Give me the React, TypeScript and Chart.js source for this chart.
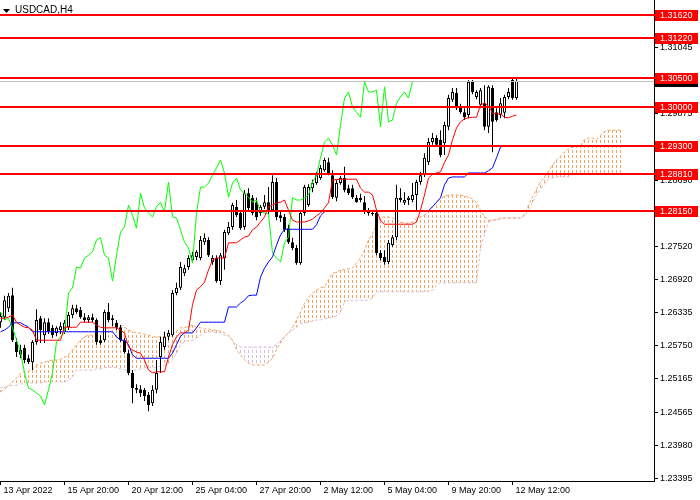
import React, { useEffect, useRef } from "react";
import { Chart, registerables } from "chart.js";

Chart.register(...registerables);

const SYMBOL = "USDCAD,H4";

// H4 candles, index 0 = 13 Apr 2022 04:00
const opens = [
  1.2617, 1.2626, 1.2642, 1.2665, 1.2582, 1.2568, 1.2571, 1.2553, 1.2546, 1.2582,
  1.2624, 1.2594, 1.2617, 1.2607, 1.2598, 1.2603, 1.2600, 1.2608, 1.2630, 1.2642,
  1.2639, 1.2626, 1.2621, 1.2626, 1.2621, 1.2585, 1.2585, 1.2635, 1.2621, 1.2616,
  1.2608, 1.2585, 1.2562, 1.2527, 1.2500, 1.2498, 1.2497, 1.2488, 1.2473, 1.2497,
  1.2555, 1.2573, 1.2591, 1.2594, 1.2669, 1.2678, 1.2704, 1.2715, 1.2727, 1.2733,
  1.2731, 1.2759, 1.2763, 1.2724, 1.2731, 1.2690, 1.2731, 1.2775, 1.2786, 1.2822,
  1.2811, 1.2786, 1.2846, 1.2838, 1.2830, 1.2811, 1.2822, 1.2830, 1.2816, 1.2866,
  1.2807, 1.2804, 1.2784, 1.2759, 1.2749, 1.2722, 1.2811, 1.2825, 1.2855, 1.2864,
  1.2873, 1.2887, 1.2901, 1.2878, 1.2838, 1.2864, 1.2873, 1.2855, 1.2855, 1.2838,
  1.2838, 1.2830, 1.2813, 1.2811, 1.2811, 1.2740, 1.2733, 1.2724, 1.2754, 1.2768,
  1.2838, 1.2829, 1.2834, 1.2834, 1.2843, 1.2866, 1.2878, 1.2901, 1.2937, 1.2944,
  1.2941, 1.2935, 1.2964, 1.3012, 1.3024, 1.2999, 1.2990, 1.2985, 1.3044, 1.3017,
  1.3003, 1.3006, 1.2964, 1.3033, 1.2990, 1.2985, 1.2989, 1.3017, 1.3047, 1.3015,
];
const highs = [
  1.2635, 1.2664, 1.2669, 1.2678, 1.2589, 1.2577, 1.2577, 1.2559, 1.2585, 1.2640,
  1.2628, 1.2624, 1.2624, 1.2612, 1.2610, 1.2617, 1.2621, 1.2635, 1.2648, 1.2648,
  1.2644, 1.2633, 1.2630, 1.2632, 1.2624, 1.2594, 1.2639, 1.2651, 1.2630, 1.2621,
  1.2612, 1.2589, 1.2568, 1.2532, 1.2507, 1.2505, 1.2500, 1.2493, 1.2505, 1.2550,
  1.2591, 1.2600, 1.2603, 1.2674, 1.2687, 1.2724, 1.2719, 1.2736, 1.2742, 1.2745,
  1.2770, 1.2775, 1.2768, 1.2736, 1.2736, 1.2740, 1.2781, 1.2795, 1.2829, 1.2834,
  1.2816, 1.2852, 1.2855, 1.2843, 1.2838, 1.2825, 1.2843, 1.2857, 1.2878, 1.2873,
  1.2813, 1.2809, 1.2790, 1.2767, 1.2754, 1.2816, 1.2861, 1.2862, 1.2870, 1.2884,
  1.2896, 1.2909, 1.2909, 1.2887, 1.2870, 1.2877, 1.2893, 1.2861, 1.2861, 1.2843,
  1.2845, 1.2841, 1.2820, 1.2816, 1.2816, 1.2745, 1.2745, 1.2763, 1.2772, 1.2861,
  1.2855, 1.2848, 1.2841, 1.2864, 1.2870, 1.2884, 1.2917, 1.2944, 1.2953, 1.2949,
  1.2958, 1.2973, 1.3021, 1.3033, 1.3033, 1.3005, 1.2997, 1.3047, 1.3047, 1.3029,
  1.3033, 1.3038, 1.3038, 1.3038, 1.2997, 1.3015, 1.3021, 1.3033, 1.3051, 1.3051,
];
const lows = [
  1.2607, 1.2621, 1.2635, 1.2582, 1.2555, 1.2553, 1.2544, 1.2543, 1.2532, 1.2577,
  1.2580, 1.2580, 1.2596, 1.2589, 1.2592, 1.2596, 1.2596, 1.2603, 1.2624, 1.2632,
  1.2623, 1.2617, 1.2616, 1.2617, 1.2577, 1.2577, 1.2582, 1.2617, 1.2610, 1.2603,
  1.2582, 1.2561, 1.2523, 1.2473, 1.2491, 1.2484, 1.2477, 1.2459, 1.2468, 1.2491,
  1.2527, 1.2568, 1.2585, 1.2591, 1.2665, 1.2674, 1.2699, 1.2710, 1.2724, 1.2727,
  1.2727, 1.2754, 1.2733, 1.2719, 1.2687, 1.2683, 1.2710, 1.2772, 1.2781, 1.2804,
  1.2781, 1.2781, 1.2816, 1.2807, 1.2798, 1.2806, 1.2818, 1.2809, 1.2813, 1.2798,
  1.2795, 1.2777, 1.2756, 1.2745, 1.2719, 1.2719, 1.2806, 1.2822, 1.2848, 1.2861,
  1.2870, 1.2884, 1.2878, 1.2836, 1.2832, 1.2861, 1.2848, 1.2843, 1.2836, 1.2829,
  1.2830, 1.2809, 1.2806, 1.2806, 1.2736, 1.2727, 1.2719, 1.2720, 1.2751, 1.2763,
  1.2830, 1.2825, 1.2825, 1.2830, 1.2813, 1.2861, 1.2875, 1.2896, 1.2932, 1.2928,
  1.2910, 1.2914, 1.2958, 1.3008, 1.2994, 1.2987, 1.2976, 1.2979, 1.3022, 1.3013,
  1.2997, 1.2958, 1.2953, 1.2919, 1.2973, 1.2979, 1.2979, 1.3013, 1.3012, 1.3012,
];
const closes = [
  1.2628, 1.2656, 1.2664, 1.2585, 1.2564, 1.2559, 1.2550, 1.2546, 1.2582, 1.2621,
  1.2603, 1.2617, 1.2600, 1.2594, 1.2607, 1.2610, 1.2616, 1.2630, 1.2642, 1.2635,
  1.2626, 1.2621, 1.2626, 1.2621, 1.2582, 1.2580, 1.2635, 1.2621, 1.2624, 1.2607,
  1.2585, 1.2564, 1.2527, 1.2500, 1.2497, 1.2491, 1.2486, 1.2470, 1.2497, 1.2527,
  1.2582, 1.2591, 1.2598, 1.2669, 1.2678, 1.2715, 1.2713, 1.2731, 1.2736, 1.2742,
  1.2763, 1.2767, 1.2736, 1.2731, 1.2690, 1.2736, 1.2777, 1.2786, 1.2825, 1.2807,
  1.2784, 1.2846, 1.2820, 1.2811, 1.2804, 1.2822, 1.2830, 1.2813, 1.2866, 1.2804,
  1.2802, 1.2781, 1.2759, 1.2749, 1.2722, 1.2811, 1.2857, 1.2857, 1.2864, 1.2878,
  1.2891, 1.2905, 1.2882, 1.2839, 1.2864, 1.2873, 1.2852, 1.2846, 1.2839, 1.2830,
  1.2834, 1.2813, 1.2811, 1.2809, 1.2740, 1.2731, 1.2724, 1.2758, 1.2768, 1.2838,
  1.2834, 1.2834, 1.2838, 1.2843, 1.2866, 1.2878, 1.2909, 1.2937, 1.2944, 1.2932,
  1.2914, 1.2967, 1.3015, 1.3026, 1.2999, 1.2990, 1.2981, 1.3044, 1.3026, 1.3026,
  1.3029, 1.2964, 1.3035, 1.2973, 1.2976, 1.3006, 1.3017, 1.3026, 1.3015, 1.30452,
];

// Ichimoku lines
const tenkan = [
  1.2624, 1.2624, 1.2626, 1.2630, 1.2617, 1.2612, 1.2608, 1.2607, 1.2603, 1.2585,
  1.2585, 1.2585, 1.2585, 1.2585, 1.2585, 1.2585, 1.2608, 1.2608, 1.2608, 1.2608,
  1.2617, 1.2617, 1.2617, 1.2617, 1.2612, 1.2608, 1.2607, 1.2607, 1.2607, 1.2607,
  1.2603, 1.2598, 1.2573, 1.2568, 1.2564, 1.2562, 1.2550, 1.2532, 1.2527, 1.2529,
  1.2529, 1.2529, 1.2555, 1.2577, 1.2591, 1.2598, 1.2598, 1.2603, 1.2648, 1.2674,
  1.2680, 1.2688, 1.2710, 1.2727, 1.2731, 1.2731, 1.2731, 1.2758, 1.2758, 1.2758,
  1.2763, 1.2768, 1.2770, 1.2781, 1.2786, 1.2795, 1.2804, 1.2822, 1.2825, 1.2829,
  1.2830, 1.2834, 1.2816, 1.2798, 1.2795, 1.2795, 1.2795, 1.2797, 1.2800, 1.2806,
  1.2811, 1.2820, 1.2829, 1.2870, 1.2870, 1.2871, 1.2871, 1.2871, 1.2871, 1.2871,
  1.2855, 1.2848, 1.2848, 1.2843, 1.2816, 1.2798, 1.2791, 1.2791, 1.2791, 1.2791,
  1.2791, 1.2791, 1.2791, 1.2791, 1.2795, 1.2816, 1.2843, 1.2873, 1.2880, 1.2882,
  1.2884, 1.2901, 1.2914, 1.2941, 1.2962, 1.2973, 1.2978, 1.2980, 1.2981, 1.2981,
  1.3003, 1.3006, 1.3001, 1.2988, 1.2987, 1.2987, 1.2981, 1.2980, 1.2983, 1.2985,
];
const kijun = [
  1.2600, 1.2603, 1.2608, 1.2616, 1.2616, 1.2616, 1.2612, 1.2608, 1.2600, 1.2600,
  1.2600, 1.2600, 1.2600, 1.2600, 1.2600, 1.2600, 1.2600, 1.2600, 1.2600, 1.2600,
  1.2600, 1.2600, 1.2600, 1.2600, 1.2600, 1.2600, 1.2600, 1.2600, 1.2600, 1.2591,
  1.2585, 1.2585, 1.2577, 1.2559, 1.2553, 1.2553, 1.2553, 1.2553, 1.2553, 1.2553,
  1.2553, 1.2553, 1.2553, 1.2562, 1.2577, 1.2592, 1.2598, 1.2598, 1.2598, 1.2607,
  1.2617, 1.2617, 1.2617, 1.2617, 1.2617, 1.2617, 1.2617, 1.2644, 1.2644, 1.2644,
  1.2651, 1.2656, 1.2664, 1.2665, 1.2665, 1.2697, 1.2713, 1.2724, 1.2733, 1.2754,
  1.2772, 1.2782, 1.2782, 1.2782, 1.2782, 1.2782, 1.2782, 1.2782, 1.2782, 1.2790,
  1.2806, 1.2813, 1.2815, 1.2815, 1.2815, 1.2815, 1.2815, 1.2815, 1.2815, 1.2815,
  1.2815, 1.2815, 1.2815, 1.2815, 1.2815, 1.2815, 1.2815, 1.2815, 1.2815, 1.2815,
  1.2815, 1.2815, 1.2815, 1.2815, 1.2815, 1.2815, 1.2815, 1.2815, 1.2822, 1.2830,
  1.2838, 1.2861, 1.2873, 1.2875, 1.2875, 1.2875, 1.2875, 1.2882, 1.2882, 1.2882,
  1.2882, 1.2882, 1.2886, 1.2891, 1.2909, 1.2928, 1.2930, 1.2930, 1.2930, 1.2930,
];
// Senkou spans (already displaced 26 bars forward)
const spanA = [
  1.2493, 1.2498, 1.2504, 1.2511, 1.2518, 1.2527, 1.2529, 1.2530, 1.2534, 1.2541,
  1.2544, 1.2546, 1.2548, 1.2550, 1.2550, 1.2551, 1.2555, 1.2559, 1.2568, 1.2577,
  1.2585, 1.2591, 1.2594, 1.2594, 1.2594, 1.2596, 1.2603, 1.2607, 1.2612, 1.2616,
  1.2612, 1.2608, 1.2603, 1.2600, 1.2598, 1.2598, 1.2596, 1.2594, 1.2591, 1.2591,
  1.2591, 1.2591, 1.2591, 1.2596, 1.2601, 1.2607, 1.2607, 1.2610, 1.2612, 1.2608,
  1.2607, 1.2605, 1.2605, 1.2603, 1.2603, 1.2601, 1.2598, 1.2594, 1.2585, 1.2568,
  1.2559, 1.2550, 1.2544, 1.2541, 1.2541, 1.2541, 1.2541, 1.2546, 1.2553, 1.2568,
  1.2580, 1.2591, 1.2598, 1.2607, 1.2621, 1.2635, 1.2651, 1.2660, 1.2669, 1.2674,
  1.2678, 1.2680, 1.2692, 1.2704, 1.2706, 1.2710, 1.2710, 1.2712, 1.2713, 1.2722,
  1.2731, 1.2745, 1.2763, 1.2774, 1.2790, 1.2802, 1.2804, 1.2804, 1.2802, 1.2798,
  1.2795, 1.2793, 1.2793, 1.2795, 1.2802, 1.2804, 1.2807, 1.2816, 1.2822, 1.2830,
  1.2836, 1.2841, 1.2843, 1.2843, 1.2843, 1.2843, 1.2841, 1.2839, 1.2836, 1.2830,
  1.2816, 1.2804, 1.2798, 1.2798, 1.2800, 1.2802, 1.2802, 1.2802, 1.2802, 1.2802,
  1.2802, 1.2809, 1.2825, 1.2839, 1.2853, 1.2866, 1.2875, 1.2885, 1.2896, 1.2905,
  1.2912, 1.2919, 1.2925, 1.2928, 1.2928, 1.2930, 1.2942, 1.2944, 1.2944, 1.2941,
  1.2948, 1.2956, 1.2958, 1.2958, 1.2958, 1.2958,
];
const spanB = [
  1.2500, 1.2502, 1.2504, 1.2505, 1.2505, 1.2507, 1.2509, 1.2509, 1.2509, 1.2509,
  1.2509, 1.2511, 1.2511, 1.2511, 1.2511, 1.2511, 1.2511, 1.2514, 1.2520, 1.2532,
  1.2532, 1.2532, 1.2532, 1.2532, 1.2534, 1.2534, 1.2536, 1.2537, 1.2537, 1.2536,
  1.2534, 1.2532, 1.2532, 1.2532, 1.2532, 1.2534, 1.2536, 1.2537, 1.2537, 1.2537,
  1.2539, 1.2541, 1.2544, 1.2550, 1.2562, 1.2577, 1.2582, 1.2584, 1.2585, 1.2589,
  1.2594, 1.2598, 1.2600, 1.2600, 1.2598, 1.2598, 1.2594, 1.2592, 1.2585, 1.2577,
  1.2573, 1.2573, 1.2573, 1.2573, 1.2573, 1.2573, 1.2573, 1.2573, 1.2573, 1.2577,
  1.2585, 1.2591, 1.2598, 1.2603, 1.2608, 1.2614, 1.2616, 1.2617, 1.2619, 1.2621,
  1.2621, 1.2624, 1.2624, 1.2626, 1.2628, 1.2635, 1.2653, 1.2656, 1.2656, 1.2656,
  1.2656, 1.2656, 1.2656, 1.2660, 1.2671, 1.2671, 1.2671, 1.2671, 1.2671, 1.2671,
  1.2671, 1.2671, 1.2671, 1.2671, 1.2671, 1.2671, 1.2671, 1.2672, 1.2674, 1.2683,
  1.2687, 1.2687, 1.2687, 1.2687, 1.2687, 1.2687, 1.2687, 1.2687, 1.2687, 1.2687,
  1.2749, 1.2772, 1.2795, 1.2798, 1.2798, 1.2800, 1.2802, 1.2802, 1.2802, 1.2802,
  1.2802, 1.2806, 1.2816, 1.2830, 1.2843, 1.2852, 1.2862, 1.2871, 1.2873, 1.2875,
  1.2875, 1.2875, 1.2875, 1.2880, 1.2880, 1.2880, 1.2880, 1.2880, 1.2880, 1.2880,
  1.2880, 1.2880, 1.2880, 1.2880, 1.2880, 1.2880,
];
const CHIKOU_SHIFT = 26;

// horizontal levels
const levels = [1.3162, 1.3122, 1.305, 1.3, 1.293, 1.2881, 1.2815];

// axis ticks
const yTicks = [
  1.23395, 1.2398, 1.24565, 1.25165, 1.2575, 1.26335, 1.2692,
  1.2752, 1.28105, 1.2869, 1.2929, 1.29875, 1.3046, 1.31045,
];
const xTickIdx = [0, 16, 32, 48, 64, 80, 96, 112, 128];
const xTickLabels = [
  "13 Apr 2022", "15 Apr 20:00", "20 Apr 12:00", "25 Apr 04:00", "27 Apr 20:00",
  "2 May 12:00", "5 May 04:00", "9 May 20:00", "12 May 12:00",
];

const Y_MIN = 1.2335;
const Y_MAX = 1.31892;
const BAR_PX = 4;
const PLOT_W = 654;
const X_MIN = -0.125;
const X_MAX = X_MIN + PLOT_W / BAR_PX;
const FONT = "'Liberation Sans', Arial, sans-serif";

function makeHatch(ctx: CanvasRenderingContext2D, color: string) {
  const c = document.createElement("canvas");
  c.width = 1;
  c.height = 5;
  const g = c.getContext("2d")!;
  g.fillStyle = color;
  g.fillRect(0, 0, 1, 3);
  return ctx.createPattern(c, "repeat")!;
}

const overlayPlugin = {
  id: "mt4overlay",
  afterDatasetsDraw(chart: any) {
    const { ctx, chartArea: a, scales } = chart;
    const ys = scales.y;
    ctx.save();
    const last = closes[closes.length - 1];
    const bp = Math.round(ys.getPixelForValue(last)) + 0.5;
    ctx.strokeStyle = "#c0c0c0";
    ctx.lineWidth = 1;
    ctx.beginPath();
    ctx.moveTo(a.left, bp);
    ctx.lineTo(a.right, bp);
    ctx.stroke();
    ctx.strokeStyle = "#ff0000";
    ctx.lineWidth = 2;
    levels.forEach((v) => {
      const p = Math.round(ys.getPixelForValue(v));
      ctx.beginPath();
      ctx.moveTo(a.left, p);
      ctx.lineTo(a.right + 2, p);
      ctx.stroke();
    });
    ctx.restore();
  },
  afterDraw(chart: any) {
    const { ctx, chartArea: a, scales } = chart;
    const ys = scales.y;
    ctx.save();
    ctx.font = `9px ${FONT}`;
    ctx.textBaseline = "middle";
    ctx.textAlign = "left";
    const last = closes[closes.length - 1];
    const lp = ys.getPixelForValue(last);
    ctx.fillStyle = "#000000";
    ctx.fillRect(a.right + 1, Math.round(lp) - 5, 43, 11);
    ctx.fillStyle = "#ffffff";
    ctx.fillText(last.toFixed(5), a.right + 6, Math.round(lp) + 0.5);
    levels.forEach((v) => {
      const p = Math.round(ys.getPixelForValue(v));
      ctx.fillStyle = "#ff0000";
      ctx.fillRect(a.right + 1, p - 5, 43, 11);
      ctx.fillStyle = "#ffffff";
      ctx.fillText(v.toFixed(5), a.right + 6, p + 0.5);
    });
    // title
    ctx.fillStyle = "#000000";
    ctx.beginPath();
    ctx.moveTo(3, 9);
    ctx.lineTo(10, 9);
    ctx.lineTo(6.5, 13);
    ctx.closePath();
    ctx.fill();
    ctx.font = `10px ${FONT}`;
    ctx.textBaseline = "alphabetic";
    ctx.fillText(SYMBOL, 15, 13);
    ctx.restore();
  },
};

export default function App() {
  const ref = useRef<HTMLCanvasElement>(null);
  useEffect(() => {
    document.body.style.margin = "0";
    const canvas = ref.current!;
    const ctx = canvas.getContext("2d")!;
    const orange = makeHatch(ctx, "#f4a460");
    const thistle = makeHatch(ctx, "#d8bfd8");

    const line = (data: { x: number; y: number }[], color: string, order: number, dash?: number[]) => ({
      type: "line" as const,
      data,
      borderColor: color,
      borderWidth: 1,
      borderDash: dash || [],
      pointRadius: 0,
      pointHoverRadius: 0,
      tension: 0,
      fill: false,
      order,
    });

    const chart = new Chart(canvas, {
      type: "bar",
      data: {
        datasets: [
          line(tenkan.map((v, i) => ({ x: i, y: v })), "#ff0000", 0),
          line(kijun.map((v, i) => ({ x: i, y: v })), "#0000ff", 1),
          line(closes.slice(CHIKOU_SHIFT).map((v, i) => ({ x: i, y: v })), "#00ff00", 2),
          {
            type: "bar",
            data: closes.map((c, i) => ({ x: i, y: [opens[i], c] })),
            backgroundColor: closes.map((c, i) => (c >= opens[i] ? "#ffffff" : "#000000")),
            borderColor: "#000000",
            borderWidth: 1,
            borderSkipped: false,
            barThickness: 3,
            grouped: false,
            inflateAmount: 0,
            minBarLength: 1,
            order: 3,
          },
          {
            type: "bar",
            data: highs.map((h, i) => ({ x: i, y: [lows[i], h] })),
            backgroundColor: "#000000",
            borderWidth: 0,
            barThickness: 1,
            grouped: false,
            inflateAmount: 0,
            order: 4,
          },
          line(spanA.map((v, i) => ({ x: i, y: v })), "#f4a460", 5, [3, 2]),
          line(spanB.map((v, i) => ({ x: i, y: v })), "#d8bfd8", 6, [3, 2]),
          {
            type: "bar",
            data: spanA.map((v, i) => ({ x: i, y: [v, spanB[i]] })),
            backgroundColor: spanA.map((v, i) => (v >= spanB[i] ? orange : thistle)),
            borderWidth: 0,
            barThickness: 1,
            grouped: false,
            inflateAmount: 0,
            order: 7,
          },
        ] as any,
      },
      options: {
        animation: false,
        responsive: false,
        devicePixelRatio: 1,
        events: [],
        layout: { padding: 0, autoPadding: false },
        plugins: { legend: { display: false }, tooltip: { enabled: false } },
        scales: {
          x: {
            type: "linear",
            min: X_MIN,
            max: X_MAX,
            offset: false,
            grid: { display: true, drawOnChartArea: false, drawTicks: true, tickLength: 4, color: "#000000", offset: false },
            border: { display: true, color: "#000000", width: 1 },
            ticks: {
              autoSkip: false,
              maxRotation: 0,
              minRotation: 0,
              align: "start",
              padding: 0,
              labelOffset: 3,
              color: "#000000",
              font: { family: FONT, size: 9 },
              callback: (_v: any, i: number) => xTickLabels[i],
            },
            afterBuildTicks: (s: any) => {
              s.ticks = xTickIdx.map((v) => ({ value: v }));
            },
            afterFit: (s: any) => {
              s.height = 19;
              s.paddingLeft = 0;
              s.paddingRight = 0;
              s.paddingTop = 0;
              s.paddingBottom = 0;
            },
          },
          y: {
            type: "linear",
            position: "right",
            min: Y_MIN,
            max: Y_MAX,
            beginAtZero: false,
            grid: { display: true, drawOnChartArea: false, drawTicks: true, tickLength: 4, color: "#000000" },
            border: { display: true, color: "#000000", width: 1 },
            ticks: {
              autoSkip: false,
              padding: 2,
              color: "#000000",
              font: { family: FONT, size: 9 },
              callback: (v: any) => Number(v).toFixed(5),
            },
            afterBuildTicks: (s: any) => {
              s.ticks = yTicks.map((v) => ({ value: v }));
            },
            afterFit: (s: any) => {
              s.width = 46;
              s.paddingLeft = 0;
              s.paddingRight = 0;
              s.paddingTop = 0;
              s.paddingBottom = 0;
            },
          },
        },
      } as any,
      plugins: [overlayPlugin],
    });
    return () => chart.destroy();
  }, []);

  return (
    <div style={{ width: 700, height: 500, background: "#ffffff" }}>
      <canvas ref={ref} width={700} height={500} style={{ display: "block" }} />
    </div>
  );
}
